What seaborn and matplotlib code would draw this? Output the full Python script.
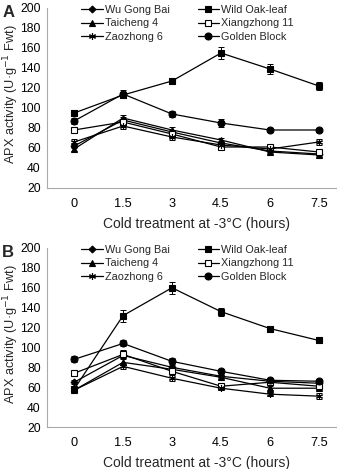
import numpy as np
import pandas as pd
import matplotlib
matplotlib.use("Agg")
import matplotlib.pyplot as plt
import seaborn as sns

sns.set_style("white")
plt.rcParams['font.family'] = ['Liberation Sans', 'DejaVu Sans']

hours = [0, 1.5, 3, 4.5, 6, 7.5]
cultivars = ['Wu Gong Bai', 'Wild Oak-leaf', 'Taicheng 4',
             'Xiangzhong 11', 'Zaozhong 6', 'Golden Block']
# legend reads row-wise in the reference; matplotlib fills columns first
legend_order = ['Wu Gong Bai', 'Taicheng 4', 'Zaozhong 6',
                'Wild Oak-leaf', 'Xiangzhong 11', 'Golden Block']

# panel A values (APX activity) and error bars
a_wgb = [62, 88, 76, 65, 57, 54]
a_wol = [95, 113, 127, 155, 139, 122]
a_tc4 = [59, 90, 78, 68, 56, 53]
a_xz11 = [78, 86, 74, 61, 61, 56]
a_zz6 = [66, 82, 71, 63, 59, 66]
a_gb = [87, 114, 94, 85, 78, 78]
a_err = {
    'Wu Gong Bai': [2, 3, 2, 2, 2, 2],
    'Wild Oak-leaf': [3, 3, 3, 6, 5, 4],
    'Taicheng 4': [2, 3, 3, 2, 2, 2],
    'Xiangzhong 11': [2, 3, 3, 2, 2, 2],
    'Zaozhong 6': [3, 3, 3, 3, 2, 3],
    'Golden Block': [3, 4, 3, 4, 2, 2],
}

# panel B values
b_wgb = [65, 92, 80, 71, 66, 64]
b_wol = [58, 132, 160, 136, 119, 107]
b_tc4 = [57, 85, 78, 70, 59, 59]
b_xz11 = [74, 93, 76, 61, 65, 61]
b_zz6 = [57, 81, 69, 59, 53, 51]
b_gb = [88, 104, 86, 76, 67, 66]
b_err = {
    'Wu Gong Bai': [2, 3, 2, 2, 2, 2],
    'Wild Oak-leaf': [2, 6, 6, 4, 3, 3],
    'Taicheng 4': [2, 3, 2, 2, 2, 2],
    'Xiangzhong 11': [2, 4, 3, 2, 2, 2],
    'Zaozhong 6': [2, 3, 3, 2, 2, 3],
    'Golden Block': [3, 3, 3, 2, 2, 2],
}

markers = {
    'Wu Gong Bai': dict(marker='D', markersize=3.5, markerfacecolor='black'),
    'Wild Oak-leaf': dict(marker='s', markersize=5, markerfacecolor='black'),
    'Taicheng 4': dict(marker='^', markersize=5, markerfacecolor='black'),
    'Xiangzhong 11': dict(marker='s', markersize=5, markerfacecolor='white'),
    'Zaozhong 6': dict(marker=(6, 2, 0), markersize=5, markerfacecolor='black'),
    'Golden Block': dict(marker='o', markersize=5, markerfacecolor='black'),
}


def make_df(vals):
    rows = []
    for name, v in zip(cultivars, vals):
        for h, y in zip(hours, v):
            rows.append((name, h, y))
    return pd.DataFrame(rows, columns=['cultivar', 'hours', 'apx'])


def draw_panel(ax, df, err, letter):
    for name in cultivars:
        d = df[df.cultivar == name]
        ax.errorbar(d.hours, d.apx, yerr=err[name], fmt='none', ecolor='black',
                    elinewidth=0.7, capsize=2, capthick=0.7, zorder=2)
        sns.lineplot(data=d, x='hours', y='apx', ax=ax, color='black',
                     linewidth=0.9, markeredgecolor='black', markeredgewidth=0.8,
                     label=name, zorder=3, **markers[name])
    ax.set_xlim(-0.83, 8.33)
    ax.set_ylim(20, 200)
    ax.set_xticks(hours)
    ax.set_xticklabels(['0', '1.5', '3', '4.5', '6', '7.5'])
    ax.set_yticks(range(20, 201, 20))
    ax.tick_params(axis='x', labelsize=9.2, colors='black')
    ax.tick_params(axis='y', labelsize=8.8, colors='black')
    ax.tick_params(axis='y', length=2.5, width=0.6, color='#999999', pad=2)
    ax.tick_params(axis='x', length=0, pad=7)
    for s in ['top', 'right']:
        ax.spines[s].set_visible(False)
    for s in ['left', 'bottom']:
        ax.spines[s].set_color('#aaaaaa')
        ax.spines[s].set_linewidth(0.8)
    ax.set_xlabel('Cold treatment at -3\u00b0C (hours)', fontsize=10, labelpad=5)
    ax.set_ylabel('APX activity (U\u00b7g$^{-1}$ Fwt)', fontsize=9.2)
    ax.yaxis.set_label_coords(-0.088, 0.52)

    handles, labels = ax.get_legend_handles_labels()
    hmap = dict(zip(labels, handles))
    ax.legend([hmap[n] for n in legend_order], legend_order, ncol=2,
              loc='upper left', bbox_to_anchor=(0.1, 1.04), frameon=False,
              fontsize=7.8, handlelength=2.0, handletextpad=0.15,
              columnspacing=2.6, labelspacing=0.3, borderaxespad=0)
    ax.text(-0.13, 0.975, letter, transform=ax.transAxes, fontsize=12,
            fontweight='bold', va='center', ha='center')


fig = plt.figure(figsize=(3.37, 4.69), dpi=100)
W, H = 337.0, 469.0
ax_left = 47 / W
ax_w = (346 - 47) / W
axA = fig.add_axes([ax_left, 1 - 188 / H, ax_w, 180 / H])
axB = fig.add_axes([ax_left, 1 - 427 / H, ax_w, 179 / H])

dfA = make_df([a_wgb, a_wol, a_tc4, a_xz11, a_zz6, a_gb])
dfB = make_df([b_wgb, b_wol, b_tc4, b_xz11, b_zz6, b_gb])
draw_panel(axA, dfA, a_err, 'A')
draw_panel(axB, dfB, b_err, 'B')

fig.savefig('out.png', dpi=100)
